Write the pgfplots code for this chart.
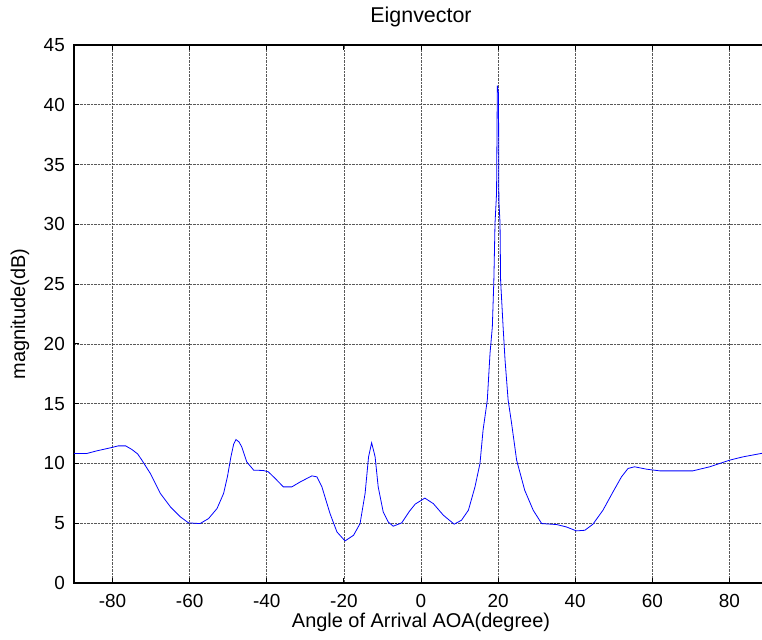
\documentclass[border=0pt]{standalone}
\usepackage{fontspec}
\setmainfont{Liberation Sans}
\usepackage{pgfplots}
\pgfplotsset{compat=1.18}
\begin{document}
\begin{tikzpicture}
\useasboundingbox (-74bp,-57bp) rectangle (688bp,583bp);
\clip (-74bp,-57bp) rectangle (688bp,583bp);
\begin{axis}[
  at={(0,0)}, anchor=south west,
  scale only axis, width=694bp, height=538bp,
  xmin=-90, xmax=90, ymin=0, ymax=45,
  xtick={-80,-60,-40,-20,0,20,40,60,80},
  ytick={0,5,10,15,20,25,30,35,40,45},
  grid=major,
  grid style={densely dotted, black!65, line width=0.6bp},
  tick align=inside, tick pos=both, major tick length=5bp,
  axis line style={line width=1.1bp},
  tick style={black, line width=0.9bp},
  /pgf/number format/assume math mode=true,
  tick label style={font=\fontsize{19}{22}\selectfont},
  xticklabel style={anchor=base, yshift=-24bp},
  yticklabel style={anchor=east, inner sep=0pt, xshift=-9bp},
  title={Eignvector},
  title style={at={(axis description cs:0.5,1)}, anchor=base, yshift=17bp, font=\fontsize{21.5}{25}\selectfont},
  xlabel={Angle of Arrival AOA(degree)},
  xlabel style={at={(axis description cs:0.5,0)}, anchor=base, yshift=-44bp, font=\fontsize{20}{24}\selectfont},
  ylabel={magnitude(dB)},
  ylabel style={at={(axis description cs:-0.0706,0.5)}, anchor=base, font=\fontsize{20}{24}\selectfont},
]
\addplot[blue, line width=0.8bp] coordinates {
(-90,10.84) (-86.6,10.84) (-84,11.06) (-80.1,11.34) (-78.5,11.47) (-76.6,11.47)
(-75,11.17) (-73.5,10.8) (-72.4,10.28) (-70.2,9.16) (-67.6,7.49) (-65,6.37) (-62.4,5.53)
(-60.3,5.03) (-57.3,4.97) (-55.1,5.39) (-52.9,6.23) (-51.2,7.49) (-50.2,8.9) (-49.3,10.55)
(-48.6,11.6) (-48.0,12.0) (-47.2,11.8) (-46.5,11.39) (-45.2,10.13) (-43.4,9.44) (-40.9,9.41) (-39.6,9.3)
(-37.8,8.74) (-35.7,8.04) (-33.5,8.04) (-31.3,8.46) (-28.3,8.96) (-27.0,8.88)
(-25.7,8.04) (-23.6,5.81) (-21.8,4.27) (-19.7,3.52) (-17.5,3.99) (-15.8,4.97)
(-14.5,7.49) (-13.6,10.55) (-12.8,11.73) (-11.9,10.55) (-11.1,8.04) (-9.8,5.95)
(-8.5,5.1) (-7.2,4.75) (-5.0,5.03) (-3.0,6.0) (-1.5,6.6) (1.0,7.1) (3.2,6.64) (5.8,5.67)
(8.6,4.92) (10.5,5.25) (12.3,6.09) (14.0,8.04) (15.3,10.0) (16.1,12.79)
(17.2,15.3) (17.9,19.2) (18.5,21.4) (18.9,25.35) (19.2,30.1) (19.6,32.6)
(19.8,41.6) (20.1,41.0) (20.2,32.0) (20.5,30.1) (20.65,25.3) (21.3,21.4)
(21.8,18.65) (22.2,16.98) (22.6,15.3) (23.5,13.35) (24.8,10.28) (26.9,7.76)
(29.1,6.09) (31.3,4.97) (35.2,4.89) (37.7,4.69) (40.3,4.36) (42.5,4.41)
(44.6,4.92) (47.2,6.09) (49.8,7.62) (52.0,8.88) (53.7,9.58) (55.4,9.72)
(58.5,9.52) (61.9,9.38) (70.5,9.38) (74.9,9.72) (80.1,10.28) (83.5,10.55)
(88.3,10.84) (90,10.9)
};
\end{axis}
\end{tikzpicture}
\end{document}
